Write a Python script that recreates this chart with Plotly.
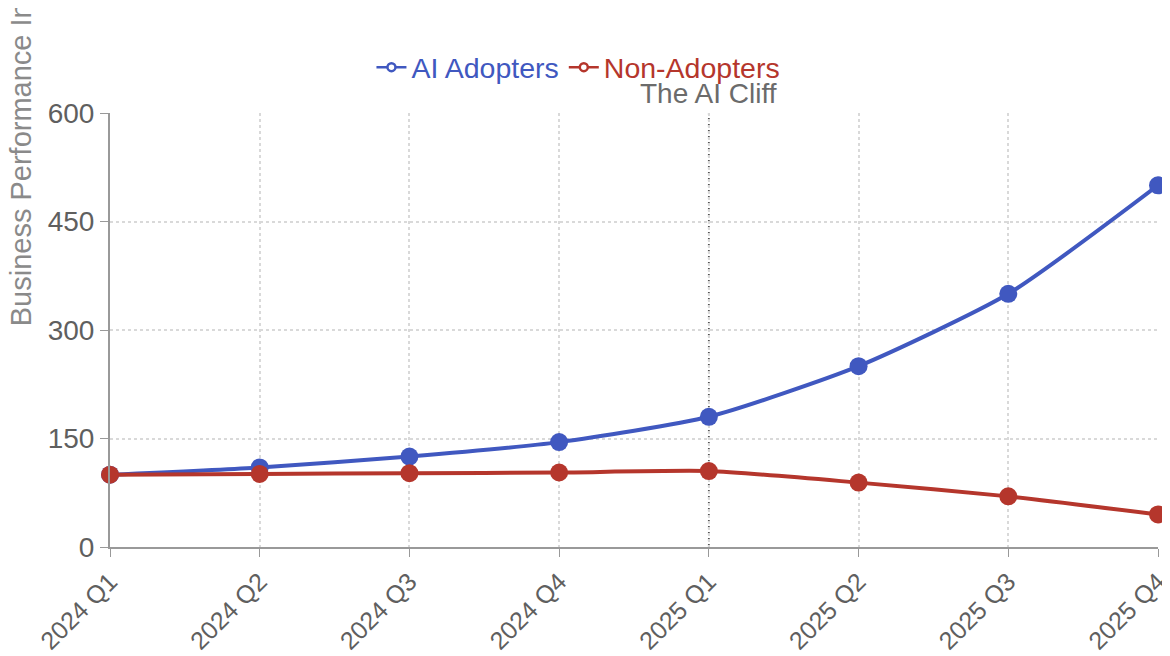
import plotly.graph_objects as go

quarters = ["2024 Q1", "2024 Q2", "2024 Q3", "2024 Q4", "2025 Q1", "2025 Q2", "2025 Q3", "2025 Q4"]
ai_adopters = [100, 110, 125, 145, 180, 250, 350, 500]
non_adopters = [100, 101, 102, 103, 105, 89, 70, 45]
y_ticks = [0, 150, 300, 450, 600]
cliff_label = "The AI Cliff"
cliff_at = "2025 Q1"

BLUE = "#4058c0"
RED = "#b5362c"
GRAY = "#5f5f5f"
FONT = "Liberation Sans, Arial, sans-serif"

fig = go.Figure()
for name, vals, col in [("AI Adopters", ai_adopters, BLUE), ("Non-Adopters", non_adopters, RED)]:
    fig.add_trace(go.Scatter(
        x=quarters, y=vals, mode="lines+markers", showlegend=False, cliponaxis=False,
        line=dict(color=col, width=4, shape="spline", smoothing=0.6),
        marker=dict(color=col, size=18),
    ))
    # legend entry with small hollow-circle symbol
    fig.add_trace(go.Scatter(
        x=[None], y=[None], mode="lines+markers",
        name=f"<span style='color:{col}'>{name}</span>",
        line=dict(color=col, width=2.5),
        marker=dict(color="white", size=8, symbol="circle", line=dict(color=col, width=2.5)),
    ))

fig.add_shape(type="line", xref="x", yref="paper", x0=cliff_at, x1=cliff_at, y0=0, y1=1,
              line=dict(color="#555555", width=1.8, dash="3px,3px"), layer="below")
fig.add_annotation(x=cliff_at, xref="x", y=1.0, yref="paper", yanchor="middle", yshift=20,
                   text=cliff_label, showarrow=False, font=dict(size=28, color="#6b6b6b", family=FONT))

fig.add_annotation(x=-0.085, xref="paper", y=0.505, yref="paper", xanchor="center", yanchor="bottom",
                   text="Business Performance Index", textangle=-90, showarrow=False,
                   font=dict(size=29, color="#8a8a8a", family=FONT))

fig.update_layout(
    width=1170, height=648,
    margin=dict(l=102, r=20, t=105, b=109, autoexpand=False),
    paper_bgcolor="white", plot_bgcolor="white",
    font=dict(family=FONT, size=27, color=GRAY),
    showlegend=True,
    legend=dict(orientation="h", xref="paper", x=0.447, xanchor="center",
                yref="container", y=0.908, yanchor="middle",
                font=dict(size=28.5), itemwidth=30, traceorder="normal",
                bgcolor="rgba(0,0,0,0)"),
)

fig.update_xaxes(
    type="category", range=[0, 7], showline=True, linecolor="#999999", linewidth=2,
    ticks="outside", ticklen=8, tickcolor="#999999", tickangle=-45, automargin=False,
    showgrid=True, gridcolor="#d9d9d9", griddash="dot", gridwidth=1.5,
    tickfont=dict(size=25, color=GRAY), zeroline=False,
)
fig.update_yaxes(
    range=[0, 600], tickvals=y_ticks, showline=True, linecolor="#999999", linewidth=2,
    ticks="outside", ticklen=8, tickcolor="#999999", automargin=False,
    showgrid=True, gridcolor="#d9d9d9", griddash="dot", gridwidth=1.5,
    tickfont=dict(size=28, color=GRAY), zeroline=False,
)

fig.write_html("out.html")
